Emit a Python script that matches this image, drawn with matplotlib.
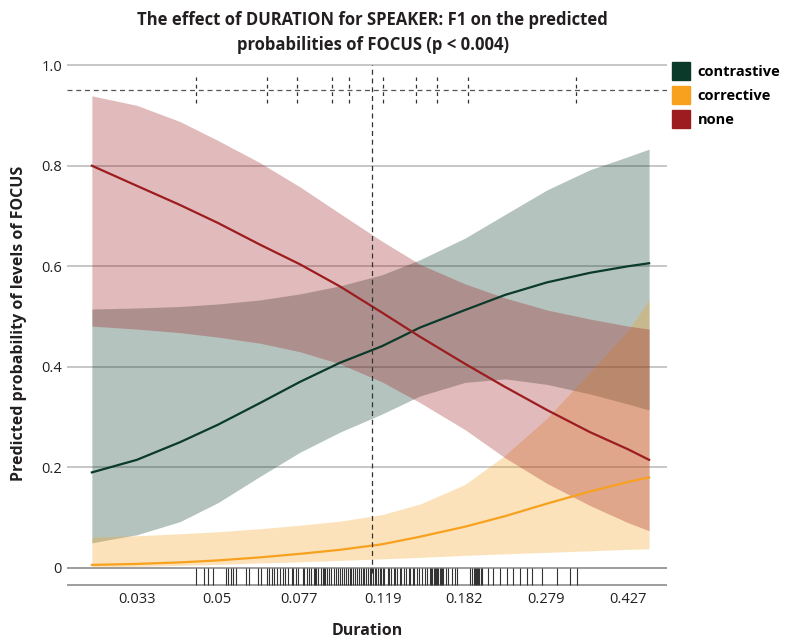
import matplotlib.pyplot as plt
from matplotlib.lines import Line2D
import numpy as np

plt.rcParams['font.family'] = ['Open Sans', 'DejaVu Sans']

# 时长 (对数轴)
duration = [0.0261, 0.033, 0.0413, 0.0504, 0.0627, 0.0772, 0.0951, 0.1184,
            0.1443, 0.1826, 0.225, 0.2801, 0.3504, 0.4271, 0.4767]

# contrastive
contrastive = [0.190, 0.215, 0.250, 0.285, 0.328, 0.370, 0.408, 0.441,
               0.478, 0.513, 0.543, 0.568, 0.587, 0.600, 0.606]
contrastive_hi = [0.515, 0.517, 0.520, 0.525, 0.533, 0.545, 0.561, 0.583,
                  0.613, 0.656, 0.703, 0.752, 0.792, 0.818, 0.833]
contrastive_lo = [0.050, 0.066, 0.092, 0.130, 0.182, 0.230, 0.270, 0.306,
                  0.342, 0.369, 0.376, 0.365, 0.346, 0.326, 0.314]

# corrective
corrective = [0.006, 0.008, 0.011, 0.015, 0.021, 0.028, 0.036, 0.047,
              0.062, 0.082, 0.103, 0.128, 0.152, 0.171, 0.180]
corrective_hi = [0.061, 0.064, 0.068, 0.072, 0.078, 0.085, 0.093, 0.106,
                 0.127, 0.166, 0.224, 0.298, 0.390, 0.472, 0.533]
corrective_lo = [0.002, 0.003, 0.005, 0.007, 0.010, 0.012, 0.015, 0.018,
                 0.021, 0.025, 0.028, 0.031, 0.034, 0.037, 0.038]

# none
none = [0.800, 0.760, 0.722, 0.686, 0.643, 0.604, 0.560, 0.508,
        0.460, 0.406, 0.360, 0.314, 0.270, 0.236, 0.215]
none_hi = [0.939, 0.920, 0.888, 0.850, 0.806, 0.758, 0.705, 0.650,
           0.604, 0.565, 0.537, 0.513, 0.495, 0.481, 0.475]
none_lo = [0.481, 0.475, 0.468, 0.459, 0.447, 0.430, 0.406, 0.370,
           0.329, 0.275, 0.219, 0.168, 0.124, 0.090, 0.074]

# 分位数标记 + 中位数
quantiles = [0.0449, 0.0650, 0.0760, 0.0912, 0.0997, 0.1190, 0.1414, 0.1578, 0.1854, 0.3257]
median = 0.1124

# 观测值 rug
rug = [0.0450, 0.0468, 0.0478, 0.0490, 0.0525, 0.0530, 0.0539, 0.0544, 0.0553, 0.0583,
       0.0592, 0.0620, 0.0630, 0.0650, 0.0657, 0.0667, 0.0674, 0.0685, 0.0696, 0.0707,
       0.0714, 0.0725, 0.0741, 0.0744, 0.0756, 0.0764, 0.0784, 0.0788, 0.0801,
       0.081, 0.082, 0.083, 0.0835, 0.084, 0.085, 0.086, 0.087, 0.0875, 0.088, 0.089,
       0.090, 0.091, 0.092, 0.093, 0.094, 0.095, 0.096, 0.097, 0.098, 0.099, 0.100,
       0.101, 0.102, 0.103, 0.104, 0.105, 0.106, 0.107, 0.108, 0.109, 0.110, 0.111,
       0.112, 0.113, 0.114, 0.115, 0.116, 0.117, 0.118, 0.119, 0.120, 0.122, 0.123,
       0.124, 0.126, 0.127, 0.128, 0.130, 0.131, 0.133, 0.134, 0.136, 0.137, 0.139,
       0.140, 0.142, 0.144, 0.146, 0.148, 0.150,
       0.152, 0.153, 0.154, 0.155, 0.156, 0.157, 0.158, 0.159, 0.160, 0.161, 0.162,
       0.163, 0.165, 0.167, 0.171, 0.173, 0.175,
       0.187, 0.189, 0.191, 0.192, 0.193, 0.194, 0.195, 0.196, 0.198, 0.200,
       0.206, 0.211, 0.219, 0.227, 0.235, 0.243, 0.252, 0.259, 0.273, 0.295, 0.316, 0.327]

x_ticks = [0.033, 0.05, 0.077, 0.119, 0.182, 0.279, 0.427]
x_tick_labels = ['0.033', '0.05', '0.077', '0.119', '0.182', '0.279', '0.427']
y_ticks = [0, 0.2, 0.4, 0.6, 0.8, 1.0]
y_tick_labels = ['0', '0.2', '0.4', '0.6', '0.8', '1.0']

green = '#0b3a2a'
orange = '#f7a11f'
red = '#9c1c1f'
text_color = '#231f20'

fig = plt.figure(figsize=(7.96, 6.39), dpi=100)
ax = fig.add_axes([0.084, 0.0829, 0.754, 0.823])

# 网格线
for y in y_ticks[1:]:
    ax.axhline(y, color='#bdbdbd', lw=1.2, zorder=0)
ax.axhline(0, color='#8c8c8c', lw=1.2, zorder=0)
ax.axhline(-0.034, color='#8c8c8c', lw=1.2, zorder=0)

# 置信带
ax.fill_between(duration, contrastive_lo, contrastive_hi, color=green, alpha=0.3, lw=0)
ax.fill_between(duration, corrective_lo, corrective_hi, color=orange, alpha=0.3, lw=0)
ax.fill_between(duration, none_lo, none_hi, color=red, alpha=0.3, lw=0)

# 预测曲线
ax.plot(duration, contrastive, color=green, lw=1.6)
ax.plot(duration, corrective, color=orange, lw=1.6)
ax.plot(duration, none, color=red, lw=1.6)

# 分位数
ax.axhline(0.95, color='#555555', lw=0.9, ls=(0, (4, 3)))
for q in quantiles:
    ax.plot([q, q], [0.924, 0.976], color='#333333', lw=0.9, ls=(0, (3, 3)))
ax.plot([median, median], [-0.01, 1.0], color='#333333', lw=0.9, ls=(0, (4, 3)))

# rug
ax.vlines(rug, -0.034, 0, color='#333333', lw=0.8)

ax.set_xscale('log')
ax.set_xlim(0.02291, 0.5235)
ax.set_ylim(-0.036, 1.01)
ax.set_xticks(x_ticks)
ax.set_xticklabels(x_tick_labels)
ax.xaxis.set_minor_locator(plt.NullLocator())
ax.set_yticks(y_ticks)
ax.set_yticklabels(y_tick_labels)
ax.tick_params(length=0, labelsize=10.5, colors=text_color)
ax.tick_params(axis='x', pad=4)
for s in ax.spines.values():
    s.set_visible(False)

ax.set_xlabel('Duration', fontsize=11.5, fontweight='bold', color=text_color, labelpad=12)
ax.set_ylabel('Predicted probability of levels of FOCUS', fontsize=11.5, fontweight='bold',
              color=text_color, labelpad=10)

fig.text(0.468, 0.968, 'The effect of DURATION for SPEAKER: F1 on the predicted',
         ha='center', va='center', fontsize=12, fontweight='bold', color=text_color)
fig.text(0.468, 0.930, 'probabilities of FOCUS (p < 0.004)',
         ha='center', va='center', fontsize=12, fontweight='bold', color=text_color)

# 图例
handles = [Line2D([], [], ls='', marker='s', markersize=13.5, color=c) for c in [green, orange, red]]
fig.legend(handles, ['contrastive', 'corrective', 'none'], loc='upper left',
           bbox_to_anchor=(0.834, 0.912), frameon=False,
           prop={'weight': 'bold', 'size': 10.5}, handletextpad=0.5, labelspacing=0.7,
           handlelength=1.2, borderaxespad=0.2)

fig.savefig('out.png', dpi=100)
